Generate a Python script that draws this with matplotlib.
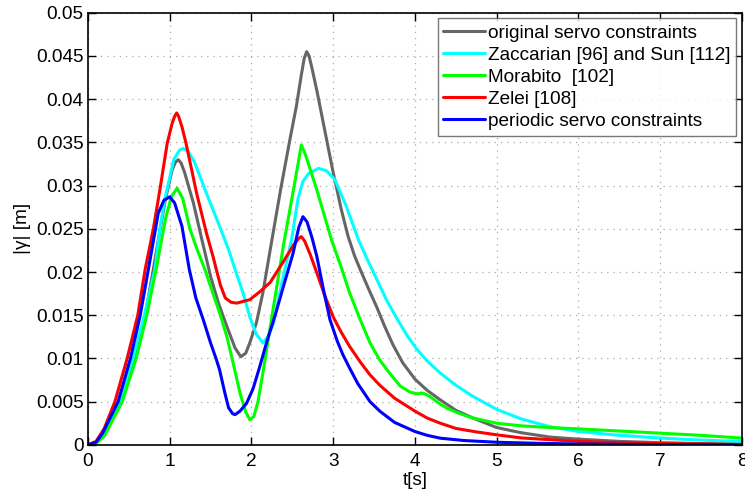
import matplotlib
matplotlib.use("Agg")
import matplotlib.pyplot as plt

plt.rcParams['font.family'] = ['Liberation Sans', 'DejaVu Sans']

# time axes and |gamma| values of each method
t_orig = [0, 0.1, 0.2, 0.40, 0.57, 0.70, 0.80, 0.86, 0.95, 1.03, 1.07, 1.105, 1.14, 1.18,
          1.29, 1.40, 1.50, 1.60, 1.70, 1.80, 1.87, 1.93, 1.98, 2.06, 2.14, 2.25, 2.36,
          2.47, 2.55, 2.61, 2.645, 2.675, 2.705, 2.74, 2.80, 2.92, 3.0, 3.1, 3.18, 3.26,
          3.33, 3.43, 3.53, 3.63, 3.73, 3.85, 4.0, 4.15, 4.31, 4.5, 4.71, 5.0, 5.3, 5.65,
          6.0, 6.5, 7.0, 7.5, 8.0]
v_orig = [0, 0.0002, 0.0011, 0.005, 0.010, 0.015, 0.0203, 0.0237, 0.0285, 0.0318, 0.0327,
          0.0330, 0.0326, 0.0316, 0.0280, 0.0235, 0.0195, 0.0163, 0.0137, 0.0112, 0.0102,
          0.0106, 0.0118, 0.0141, 0.0176, 0.0237, 0.0297, 0.0353, 0.0392, 0.0428, 0.0447,
          0.0455, 0.0450, 0.0436, 0.0410, 0.0353, 0.0315, 0.0272, 0.0242, 0.0219, 0.0203,
          0.0181, 0.0160, 0.0137, 0.0116, 0.0095, 0.0076, 0.0063, 0.0052, 0.0040, 0.0031,
          0.0020, 0.0014, 0.0009, 0.00066, 0.0004, 0.00025, 0.00015, 0.0001]

t_zacc = [0, 0.1, 0.2, 0.39, 0.55, 0.69, 0.82, 0.88, 0.94, 1.05, 1.12, 1.166, 1.22, 1.30,
          1.45, 1.61, 1.72, 1.80, 1.90, 1.98, 2.06, 2.14, 2.20, 2.27, 2.39, 2.49, 2.57,
          2.63, 2.70, 2.82, 2.92, 3.02, 3.16, 3.31, 3.42, 3.53, 3.65, 3.78, 3.90, 4.02,
          4.15, 4.31, 4.50, 4.71, 5.0, 5.3, 5.65, 6.0, 6.5, 7.0, 7.5, 8.0]
v_zacc = [0, 0.0002, 0.0012, 0.005, 0.010, 0.015, 0.0203, 0.0250, 0.0284, 0.0330, 0.0341,
          0.0343, 0.0340, 0.0328, 0.0291, 0.0253, 0.0226, 0.0203, 0.0175, 0.0148, 0.0128,
          0.0118, 0.0125, 0.0141, 0.0195, 0.0237, 0.0285, 0.0305, 0.0314, 0.0320, 0.0317,
          0.0307, 0.0276, 0.0237, 0.0214, 0.0192, 0.0168, 0.0146, 0.0127, 0.0111, 0.0097,
          0.0083, 0.0069, 0.0056, 0.0041, 0.0030, 0.0021, 0.00154, 0.0011, 0.00078, 0.00055,
          0.00038]

t_mora = [0, 0.1, 0.2, 0.42, 0.59, 0.72, 0.84, 0.95, 1.02, 1.09, 1.16, 1.25, 1.34, 1.43,
          1.53, 1.62, 1.70, 1.78, 1.86, 1.93, 1.98, 2.03, 2.08, 2.14, 2.27, 2.39, 2.50,
          2.57, 2.61, 2.66, 2.80, 2.98, 3.1, 3.2, 3.33, 3.45, 3.57, 3.69, 3.82, 3.94, 4.03,
          4.08, 4.12, 4.18, 4.31, 4.40, 4.55, 4.71, 5.0, 5.3, 5.65, 6.0, 6.5, 7.0, 7.5, 8.0]
v_mora = [0, 0.0002, 0.001, 0.005, 0.010, 0.015, 0.0206, 0.0262, 0.0287, 0.0297, 0.0285,
          0.0249, 0.0225, 0.0203, 0.0175, 0.0150, 0.0125, 0.0093, 0.0060, 0.0038, 0.0029,
          0.0033, 0.0050, 0.0083, 0.0160, 0.0230, 0.0288, 0.0325, 0.0347, 0.0336, 0.0295,
          0.0237, 0.0205, 0.0176, 0.0145, 0.0118, 0.0098, 0.0083, 0.0068, 0.0061, 0.0059,
          0.0060, 0.0059, 0.0056, 0.0047, 0.0042, 0.0036, 0.0031, 0.0025, 0.0022, 0.0020,
          0.00185, 0.0016, 0.00135, 0.0011, 0.00078]

t_zelei = [0, 0.1, 0.2, 0.33, 0.48, 0.61, 0.70, 0.80, 0.88, 0.97, 1.03, 1.06, 1.085, 1.11,
           1.15, 1.20, 1.33, 1.45, 1.53, 1.57, 1.62, 1.68, 1.75, 1.82, 1.98, 2.10, 2.23,
           2.39, 2.52, 2.58, 2.61, 2.65, 2.72, 2.80, 2.90, 3.0, 3.1, 3.2, 3.33, 3.45, 3.57,
           3.75, 4.0, 4.15, 4.31, 4.5, 4.75, 5.0, 5.3, 5.65, 6.0, 6.5, 7.0, 8.0]
v_zelei = [0, 0.0004, 0.0019, 0.005, 0.010, 0.015, 0.0203, 0.0250, 0.0295, 0.0349, 0.0372,
           0.0380, 0.0384, 0.0380, 0.0368, 0.0349, 0.0291, 0.0245, 0.0218, 0.0203, 0.0185,
           0.0170, 0.0165, 0.0164, 0.0168, 0.0177, 0.0188, 0.0212, 0.0232, 0.0239, 0.0241,
           0.0236, 0.0220, 0.0199, 0.0172, 0.0148, 0.0130, 0.0114, 0.0096, 0.0081, 0.0069,
           0.0054, 0.0039, 0.0031, 0.0025, 0.0019, 0.0015, 0.00116, 0.0008, 0.0006, 0.0004,
           0.00025, 0.00015, 0.00005]

t_period = [0, 0.1, 0.18, 0.37, 0.52, 0.64, 0.76, 0.86, 0.93, 1.0, 1.06, 1.15, 1.24, 1.32,
            1.41, 1.50, 1.57, 1.61, 1.67, 1.72, 1.77, 1.80, 1.86, 1.94, 2.02, 2.10, 2.19,
            2.29, 2.39, 2.51, 2.58, 2.63, 2.68, 2.74, 2.80, 2.88, 2.96, 3.05, 3.12, 3.2,
            3.3, 3.45, 3.57, 3.75, 4.0, 4.15, 4.31, 4.6, 5.0, 5.5, 6.0, 7.0, 8.0]
v_period = [0, 0.0003, 0.00135, 0.005, 0.010, 0.015, 0.0214, 0.0268, 0.0283, 0.0287,
            0.0280, 0.0253, 0.0203, 0.0170, 0.0145, 0.0118, 0.0099, 0.0087, 0.0062, 0.0043,
            0.0036, 0.0035, 0.0039, 0.0048, 0.0065, 0.0090, 0.0120, 0.0150, 0.0183, 0.0222,
            0.0252, 0.0264, 0.0258, 0.0240, 0.0218, 0.0180, 0.0145, 0.0120, 0.0104, 0.0089,
            0.0071, 0.0050, 0.0039, 0.0026, 0.00154, 0.0011, 0.00077, 0.0005, 0.0003,
            0.00018, 0.0001, 0.00003, 0.0]

labels = ['original servo constraints', 'Zaccarian [96] and Sun [112]',
          'Morabito  [102]', 'Zelei [108]', 'periodic servo constraints']
colors = ['#666666', '#00FFFF', '#00FF00', '#FF0000', '#0000FF']

x_ticks = [0, 1, 2, 3, 4, 5, 6, 7, 8]
y_ticks = [0, 0.005, 0.01, 0.015, 0.02, 0.025, 0.03, 0.035, 0.04, 0.045, 0.05]
y_tick_labels = ['0', '0.005', '0.01', '0.015', '0.02', '0.025', '0.03', '0.035',
                 '0.04', '0.045', '0.05']

FS = 13.7

fig = plt.figure(figsize=(7.45, 4.91), dpi=100)
ax = fig.add_axes([0.118, 0.094, 0.878, 0.880])

series = [(t_orig, v_orig), (t_zacc, v_zacc), (t_mora, v_mora),
          (t_zelei, v_zelei), (t_period, v_period)]
for (t, v), lab, col in zip(series, labels, colors):
    ax.plot(t, v, color=col, lw=2.2, label=lab,
            solid_joinstyle='round', solid_capstyle='round')

ax.set_xlim(0, 8)
ax.set_ylim(0, 0.05)
ax.set_xticks(x_ticks)
ax.set_xticklabels([str(x) for x in x_ticks])
ax.set_yticks(y_ticks)
ax.set_yticklabels(y_tick_labels)
ax.tick_params(direction='in', top=True, right=True, length=6, width=1.0,
               labelsize=FS)
ax.tick_params(axis='x', pad=6)
ax.tick_params(axis='y', pad=3)
ax.grid(True, linestyle=(0, (1, 4)), color='#aaaaaa', linewidth=0.9)
for s in ax.spines.values():
    s.set_linewidth(1.2)

ax.set_xlabel('t[s]', fontsize=FS, labelpad=1)
ax.set_ylabel('|γ| [m]', fontsize=FS, labelpad=4)

leg = ax.legend(loc='upper right', fontsize=FS, frameon=True, fancybox=False,
                edgecolor='#555555', borderaxespad=0.3, handlelength=2.2,
                handletextpad=0.15, labelspacing=0.25, borderpad=0.3)
leg.get_frame().set_linewidth(1.0)

fig.savefig('out.png', dpi=100)
